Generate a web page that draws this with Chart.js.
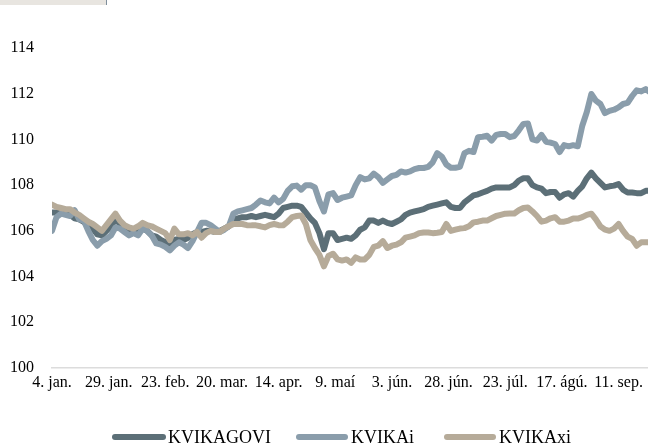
<!DOCTYPE html>
<html>
<head>
<meta charset="utf-8">
<script src="https://cdn.jsdelivr.net/npm/chart.js@4/dist/chart.umd.min.js"></script>
<style>
  html, body { margin: 0; padding: 0; background: #ffffff; }
  #wrap { position: relative; width: 648px; height: 444px; overflow: hidden; }
  #topbox { position: absolute; left: 0; top: 0; width: 106px; height: 5px; background: #e8e5e0; border-right: 1px solid #7f8f9c; }
  canvas { position: absolute; left: 0; top: 0; }
</style>
</head>
<body>
<div id="wrap">
  <canvas id="c" width="648" height="444"></canvas>
  <div id="topbox"></div>
</div>
<script>
// Day offsets from 4. jan. (every 2nd day)
const days = [];
for (let d = 0; d <= 264; d += 2) days.push(d);

// Tick labels every 25 days
const xTickLabels = ["4. jan.", "29. jan.", "23. feb.", "20. mar.", "14. apr.", "9. maí", "3. jún.", "28. jún.", "23. júl.", "17. ágú.", "11. sep."];

const seriesNames = ["KVIKAGOVI", "KVIKAi", "KVIKAxi"];

const kvikagovi = [
106.8,106.8,106.75,106.8,106.7,106.55,106.5,106.4,106.2,106.1,
105.85,105.8,106.0,106.2,106.5,106.3,106.1,106.0,106.0,105.95,
106.1,106.0,105.8,105.75,105.6,105.5,105.45,105.6,105.65,105.6,
105.7,105.85,105.95,105.95,106.0,106.0,105.95,106.0,106.1,106.2,
106.5,106.55,106.6,106.6,106.65,106.6,106.65,106.7,106.65,106.6,
106.75,107.0,107.05,107.1,107.1,107.05,106.8,106.55,106.35,105.9,
105.2,105.9,105.9,105.6,105.65,105.7,105.65,105.8,106.05,106.15,
106.45,106.45,106.35,106.45,106.35,106.3,106.4,106.5,106.7,106.8,
106.85,106.9,106.95,107.05,107.1,107.15,107.2,107.25,107.05,107.0,
107.0,107.25,107.4,107.55,107.6,107.68,107.75,107.85,107.9,107.9,
107.9,107.9,108.0,108.2,108.3,108.3,108.0,107.9,107.85,107.65,
107.7,107.7,107.45,107.6,107.65,107.5,107.75,107.95,108.3,108.55,
108.3,108.1,107.9,107.95,107.98,108.05,107.8,107.68,107.68,107.65,
107.65,107.75,107.75
];

const kvikai = [
106.0,106.6,106.75,106.7,106.65,106.9,106.5,106.45,106.0,105.6,
105.35,105.55,105.65,105.8,106.15,106.1,105.95,105.8,105.9,105.8,
106.1,106.0,105.8,105.45,105.4,105.3,105.15,105.35,105.5,105.4,
105.25,105.55,105.95,106.35,106.35,106.25,106.1,105.95,106.05,106.2,
106.75,106.85,106.9,106.95,107.0,107.15,107.33,107.25,107.2,107.45,
107.25,107.4,107.75,107.95,107.98,107.8,108.0,108.0,107.9,107.3,
106.85,107.6,107.65,107.35,107.45,107.5,107.55,108.0,108.35,108.25,
108.3,108.5,108.35,108.1,108.25,108.4,108.45,108.6,108.55,108.6,
108.7,108.75,108.75,108.8,109.0,109.4,109.25,108.9,108.76,108.76,
108.8,109.4,109.5,109.45,110.1,110.12,110.16,109.95,110.2,110.24,
110.24,110.1,110.15,110.4,110.68,110.7,110.0,109.95,110.2,109.9,
109.86,109.8,109.45,109.75,109.7,109.75,109.7,110.6,111.2,111.99,
111.7,111.55,111.15,111.25,111.3,111.4,111.55,111.6,111.9,112.15,
112.1,112.2,112.05
];

const kvikaxi = [
107.15,107.05,107.0,106.95,106.95,106.8,106.7,106.55,106.4,106.3,
106.15,106.0,106.25,106.5,106.75,106.45,106.25,106.15,106.1,106.2,
106.35,106.25,106.2,106.1,106.0,105.9,105.6,106.1,105.85,105.85,
105.9,105.8,105.95,105.7,105.9,106.0,105.95,105.95,106.1,106.2,
106.3,106.3,106.3,106.25,106.24,106.24,106.2,106.15,106.25,106.3,
106.25,106.24,106.4,106.6,106.65,106.67,106.3,105.6,105.25,104.95,
104.45,104.9,105.0,104.75,104.7,104.75,104.6,104.84,104.75,104.75,
104.95,105.3,105.35,105.55,105.25,105.35,105.4,105.5,105.7,105.75,
105.8,105.9,105.93,105.93,105.9,105.92,105.95,106.3,106.0,106.05,
106.1,106.12,106.2,106.37,106.4,106.45,106.45,106.55,106.65,106.7,
106.75,106.76,106.76,106.9,107.0,107.02,106.85,106.65,106.4,106.45,
106.55,106.6,106.4,106.4,106.45,106.54,106.54,106.6,106.7,106.75,
106.5,106.2,106.05,106.0,106.1,106.3,106.0,105.75,105.65,105.35,
105.5,105.5,105.5
];

const colors = ["#5c6f77", "#8a9dab", "#b6ab99"];
const toXY = (vals) => vals.map((v, i) => ({ x: days[i], y: v }));

const serif = "'Liberation Serif', 'Times New Roman', serif";

const legendPlugin = {
  id: 'customLegend',
  afterDraw(chart) {
    const ctx = chart.ctx;
    const items = [
      { x1: 115, x2: 163, tx: 168 },
      { x1: 299, x2: 345, tx: 351 },
      { x1: 447, x2: 493, tx: 499 }
    ];
    ctx.save();
    chart.data.datasets.forEach((ds, i) => {
      const it = items[i];
      ctx.beginPath();
      ctx.strokeStyle = ds.borderColor;
      ctx.lineWidth = 6;
      ctx.lineCap = 'round';
      ctx.moveTo(it.x1, 437);
      ctx.lineTo(it.x2, 437);
      ctx.stroke();
      ctx.fillStyle = '#000000';
      ctx.font = "18px " + serif;
      ctx.textAlign = 'left';
      ctx.textBaseline = 'alphabetic';
      ctx.fillText(ds.label, it.tx, 443);
    });
    ctx.restore();
  }
};

new Chart(document.getElementById('c'), {
  type: 'line',
  data: {
    datasets: [
      { label: seriesNames[0], data: toXY(kvikagovi), borderColor: colors[0], order: 3 },
      { label: seriesNames[1], data: toXY(kvikai), borderColor: colors[1], order: 2 },
      { label: seriesNames[2], data: toXY(kvikaxi), borderColor: colors[2], order: 1 }
    ]
  },
  options: {
    responsive: false,
    animation: false,
    parsing: true,
    elements: {
      line: { borderWidth: 6, tension: 0, borderJoinStyle: 'round', borderCapStyle: 'round' },
      point: { radius: 0, hoverRadius: 0 }
    },
    layout: { padding: { top: 48, left: 0, right: 0, bottom: 46 } },
    plugins: { legend: { display: false }, tooltip: { enabled: false } },
    scales: {
      x: {
        type: 'linear',
        min: 0,
        max: 263,
        grid: { display: false, drawTicks: false },
        border: { display: true, color: '#dcdcdc', width: 1.5 },
        ticks: {
          stepSize: 25,
          autoSkip: false,
          maxRotation: 0,
          minRotation: 0,
          includeBounds: false,
          padding: 5,
          color: '#000000',
          font: { family: serif, size: 16 },
          callback: (v) => (v % 25 === 0 && xTickLabels[v / 25] !== undefined) ? xTickLabels[v / 25] : ''
        },
        afterFit: (s) => { s.height = 30; }
      },
      y: {
        min: 100,
        max: 114,
        grid: { display: false, drawTicks: false },
        border: { display: false },
        ticks: {
          stepSize: 2,
          padding: 18,
          color: '#000000',
          font: { family: serif, size: 16 }
        },
        afterFit: (s) => { s.width = 52; }
      }
    }
  },
  plugins: [legendPlugin]
});
</script>
</body>
</html>
